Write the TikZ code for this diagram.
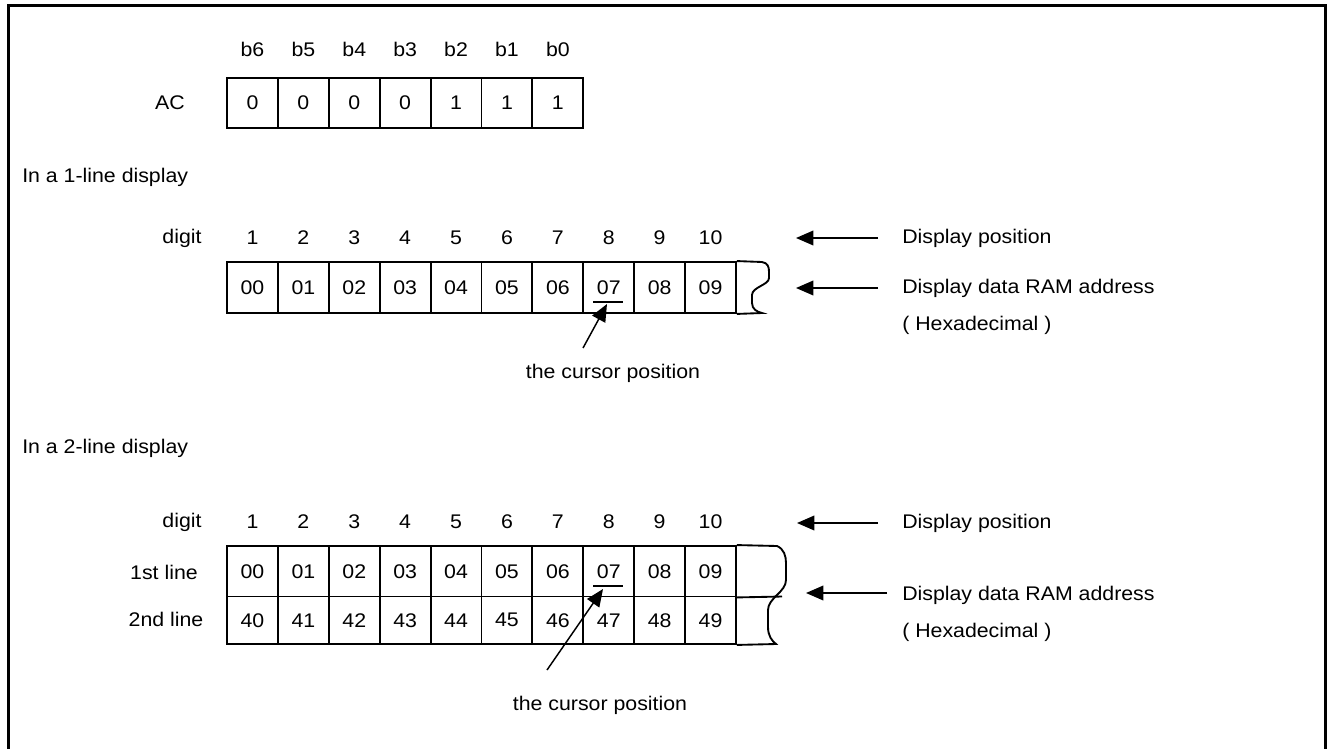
\documentclass[tikz,border=0pt]{standalone}
\usepackage{fontspec}
\setmainfont{Liberation Sans}[FakeStretch=1.08]
\usetikzlibrary{arrows.meta}
\begin{document}
\begin{tikzpicture}[x=0.75pt,y=-0.75pt,
  every node/.style={font=\fontsize{14.8}{17}\selectfont, inner sep=0pt},
  cell/.style={draw, line width=1.4pt, minimum width=38.175pt},
  boxline/.style={line width=1.4pt},
  frameline/.style={line width=2.3pt},
  arr/.style={line width=1.1pt, -{Triangle[length=13pt,width=11pt]}},
  lbl/.style={anchor=west}]
\useasboundingbox (0,0) rectangle (1327,749);
% frame
\draw[frameline] (8.5,749) -- (8.5,5.5) -- (1325.5,5.5) -- (1325.5,749);

% ---------- AC register ----------
\foreach \b [count=\i from 0] in {b6,b5,b4,b3,b2,b1,b0}
  \node (bit\i) at ({252.45+50.9*\i},49) {\b};
\node (aclabel) at (170,103) {AC};
\foreach \v [count=\i from 0] in {0,0,0,0,1,1,1}
  \node[cell, minimum height=37.5pt] (ac\i) at ({252.45+50.9*\i},103) {\v};

% ---------- 1-line display ----------
\node[lbl] (title1) at (22,177) {In a 1-line display};
\node (digitA) at (182,238) {digit};
\foreach \d [count=\i from 0] in {1,...,10}
  \node (dA\i) at ({252.45+50.9*\i},238) {\d};
\foreach \v [count=\i from 0] in {00,01,02,03,04,05,06,07,08,09}
  \node[cell, minimum height=38.25pt] (a\i) at ({252.45+50.9*\i},287.5) {\v};
\draw[boxline] (a9.north east) -- (762,262)
  .. controls (768,263) and (769,267) .. (769,272) -- (769,278)
  .. controls (769,285) and (752,287) .. (752,295) -- (752,303)
  .. controls (752,309) and (757,312) .. (762,313) -- (a9.south east);
\draw[line width=1.1pt] (593,302) -- (623,302);
\coordinate (curA) at (583,348);
\coordinate (curAtip) at (607,304);
\draw[arr] (curA) -- (curAtip);
\node (curtextA) at (613,373) {the cursor position};

\coordinate (pA1) at (878,238);
\coordinate (pA1t) at (796,238);
\draw[arr] (pA1) -- (pA1t);
\coordinate (pA2) at (878,288);
\coordinate (pA2t) at (796,288);
\draw[arr] (pA2) -- (pA2t);
\node[lbl] (posA) at (902,238) {Display position};
\node[lbl] (ramA) at (902,288) {Display data RAM address};
\node[lbl] (hexA) at (902,325) {( Hexadecimal )};

% ---------- 2-line display ----------
\node[lbl] (title2) at (22,448) {In a 2-line display};
\node (digitB) at (182,522) {digit};
\foreach \d [count=\i from 0] in {1,...,10}
  \node (dB\i) at ({252.45+50.9*\i},522) {\d};
\node (row1) at (164,572) {1st line};
\node (row2) at (166,619) {2nd line};
\foreach \v [count=\i from 0] in {00,01,02,03,04,05,06,07,08,09}
  \node[cell, minimum height=37.875pt] (b\i) at ({252.45+50.9*\i},571.25) {\v};
\foreach \v [count=\i from 0] in {40,41,42,43,44,45,46,47,48,49}
  \node[cell, minimum height=35.625pt] (c\i) at ({252.45+50.9*\i},620.25) {\v};
\draw[boxline] (b9.north east) -- (777,546)
  .. controls (784,549) and (786,556) .. (786,563) -- (786,580)
  .. controls (786,592) and (768,598) .. (768,610) -- (768,627)
  .. controls (768,636) and (772,641) .. (776,644) -- (c9.south east);
\draw[boxline] (b9.south east) -- (782,596.5);
\draw[line width=1.1pt] (593,586) -- (623,586);
\coordinate (curB) at (547,670);
\coordinate (curBtip) at (603,589);
\draw[arr] (curB) -- (curBtip);
\node (curtextB) at (600,705) {the cursor position};

\coordinate (pB1) at (878,523);
\coordinate (pB1t) at (797,523);
\draw[arr] (pB1) -- (pB1t);
\coordinate (pB2) at (887,593);
\coordinate (pB2t) at (806,593);
\draw[arr] (pB2) -- (pB2t);
\node[lbl] (posB) at (902,523) {Display position};
\node[lbl] (ramB) at (902,595) {Display data RAM address};
\node[lbl] (hexB) at (902,632) {( Hexadecimal )};
\end{tikzpicture}
\end{document}
